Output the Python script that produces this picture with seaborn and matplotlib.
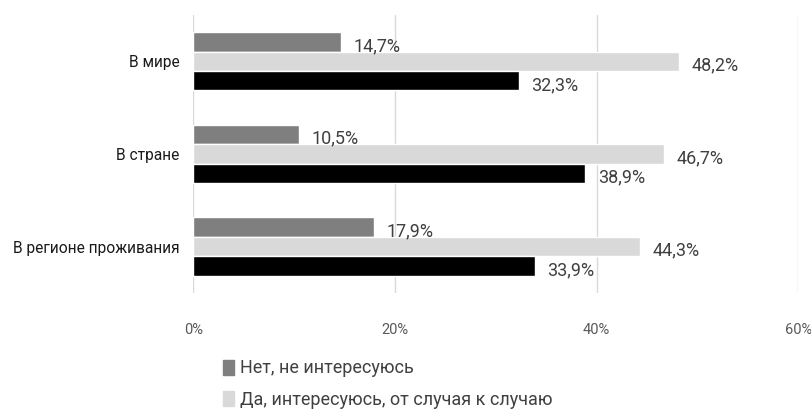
import matplotlib
matplotlib.use("Agg")
from matplotlib import pyplot as plt
from matplotlib.patches import Patch
import pandas as pd
import seaborn as sns

# categories and values (percent)
categories = ['В мире', 'В стране', 'В регионе проживания']
series_names = ['Нет, не интересуюсь',
                'Да, интересуюсь, от случая к случаю',
                'Да, интересуюсь постоянно']
no_interest = [14.7, 10.5, 17.9]
sometimes = [48.2, 46.7, 44.3]
always = [32.3, 38.9, 33.9]
colors = ['#7f7f7f', '#d9d9d9', '#000000']
x_ticks = [0, 20, 40, 60]

# build long table for seaborn
rows = []
for name, vals in zip(series_names, [no_interest, sometimes, always]):
    for cat, v in zip(categories, vals):
        rows.append({'cat': cat, 'series': name, 'value': v})
df = pd.DataFrame(rows)

sns.set_style("white")
plt.rcParams['font.family'] = ['Roboto', 'DejaVu Sans']

fig = plt.figure(figsize=(8.12, 4.16), dpi=100)
ax = fig.add_axes([0.238, 0.296, 0.745, 0.668])

sns.barplot(data=df, x='value', y='cat', hue='series', hue_order=series_names,
            order=categories, palette=colors, orient='h', width=0.63,
            saturation=1, ax=ax, legend=False)

# data labels, a bit below the bar centre like the original
for cont in ax.containers:
    labels = [('%.1f%%' % b.get_width()).replace('.', ',') for b in cont]
    txts = ax.bar_label(cont, labels=labels, padding=9, fontsize=13, color='#404040')
    for t in txts:
        t.set_y(-3)
        t.xyann = (t.xyann[0], -3)

ax.set_xlim(0, 60)
ax.set_xticks(x_ticks)
ax.set_xticklabels([f'{t}%' for t in x_ticks], color='#595959', fontsize=10.5)
ax.tick_params(axis='x', pad=22, length=0)
ax.tick_params(axis='y', length=0, pad=10, labelsize=11.2, labelcolor='#1a1a1a')
ax.grid(axis='x', color='#d9d9d9', linewidth=1)
ax.set_axisbelow(True)
for s in ax.spines.values():
    s.set_visible(False)
ax.set_xlabel('')
ax.set_ylabel('')

# legend (two visible entries)
handles = [Patch(color=colors[0]), Patch(color=colors[1])]
fig.legend(handles, series_names[:2], loc='upper left', bbox_to_anchor=(0.255, 0.175),
           frameon=False, fontsize=13, handlelength=0.6, handleheight=0.9,
           handletextpad=0.3, labelspacing=0.75, labelcolor='#404040')

fig.savefig('out.png', dpi=100)
